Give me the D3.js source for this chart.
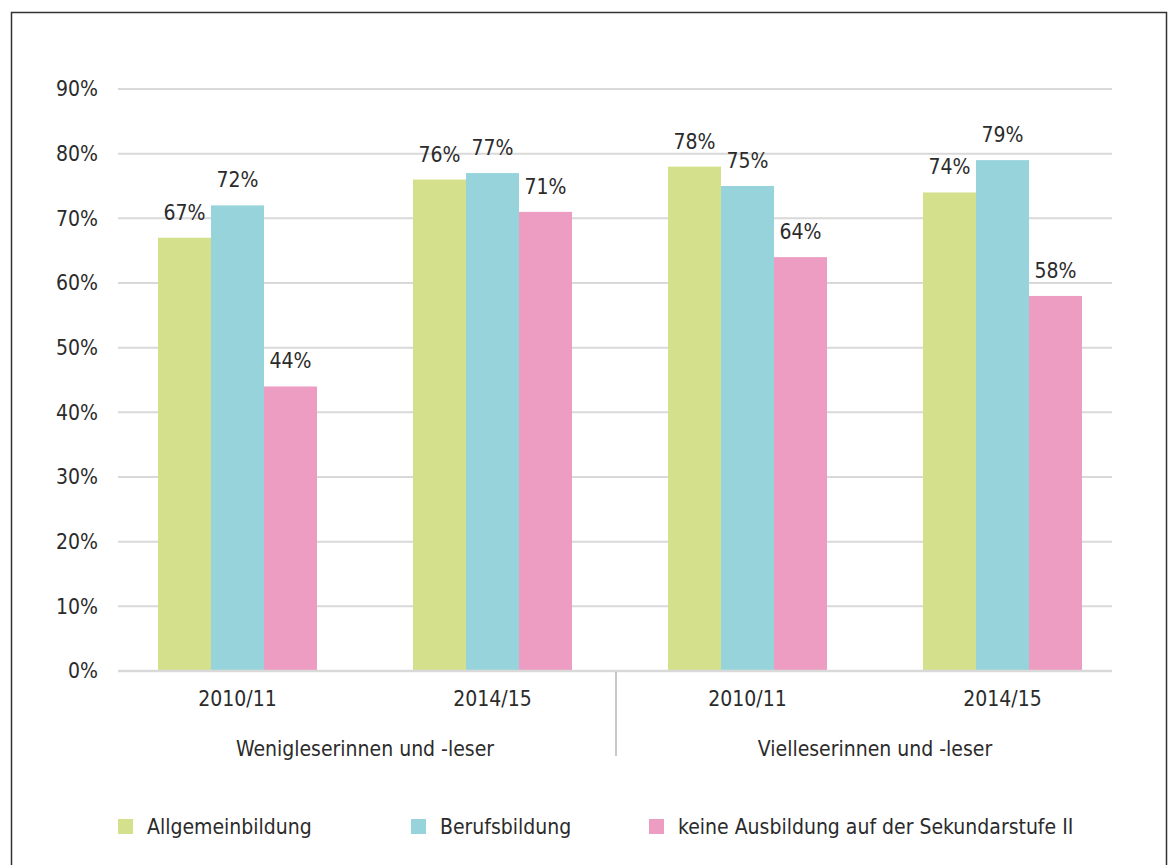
<!DOCTYPE html>
<html>
<head>
<meta charset="utf-8">
<script src="https://cdn.jsdelivr.net/npm/d3@7"></script>
<style>
  body { margin: 0; background: #fff; }
  svg text { font-family: "DejaVu Sans Condensed", "DejaVu Sans", sans-serif; fill: #2b2b2b; }
</style>
</head>
<body>
<svg id="chart" width="1173" height="865"></svg>
<script>
const groups = ['W-2010/11', 'W-2014/15', 'V-2010/11', 'V-2014/15'];
const yearLabels = ['2010/11', '2014/15', '2010/11', '2014/15'];
const readerGroups = ['Wenigleserinnen und -leser', 'Vielleserinnen und -leser'];
const seriesNames = ['Allgemeinbildung', 'Berufsbildung', 'keine Ausbildung auf der Sekundarstufe II'];
const allgemein = [67, 76, 78, 74];
const beruf = [72, 77, 75, 79];
const keine = [44, 71, 64, 58];
const yTicks = [0, 10, 20, 30, 40, 50, 60, 70, 80, 90];
const colors = ['#d4e08b', '#96d3da', '#ec9dc1'];

const svg = d3.select('#chart');
const fs = 21;

// frame
svg.append('path')
    .attr('d', 'M11.5,880 V12.5 H1166.5 V880')
    .attr('fill', 'none')
    .attr('stroke', '#333')
    .attr('stroke-width', 1.5);

const y = d3.scaleLinear().domain([0, 90]).range([671, 89]);
const x0 = d3.scaleBand().domain(groups).range([110, 1130]);
const x1 = d3.scaleBand().domain(seriesNames).range([0, 159]);
const offset = (x0.bandwidth() - 159) / 2;

// gridlines
svg.append('g').selectAll('line')
    .data(yTicks)
    .enter().append('line')
    .attr('x1', 118).attr('x2', 1112)
    .attr('y1', d => y(d)).attr('y2', d => y(d))
    .attr('stroke', '#d9d9d9')
    .attr('stroke-width', 2);

// y axis labels
const yAxis = svg.append('g')
    .attr('transform', 'translate(98,0)')
    .call(d3.axisLeft(y).tickValues(yTicks).tickSize(0).tickPadding(0).tickFormat(d => d + '%'));
yAxis.select('.domain').remove();
yAxis.selectAll('text')
    .attr('font-size', fs)
    .attr('fill', '#2b2b2b')
    .style('font-family', '"DejaVu Sans Condensed", "DejaVu Sans", sans-serif');

const series = [allgemein, beruf, keine];
const data = [];
groups.forEach((g, gi) => {
    seriesNames.forEach((s, si) => {
        data.push({ group: g, series: s, si: si, value: series[si][gi] });
    });
});

const bars = svg.append('g');
bars.selectAll('rect')
    .data(data)
    .enter().append('rect')
    .attr('x', d => x0(d.group) + offset + x1(d.series))
    .attr('y', d => y(d.value))
    .attr('width', x1.bandwidth())
    .attr('height', d => y(0) - y(d.value))
    .attr('fill', d => colors[d.si]);

bars.selectAll('text')
    .data(data)
    .enter().append('text')
    .attr('x', d => x0(d.group) + offset + x1(d.series) + x1.bandwidth() / 2)
    .attr('y', d => y(d.value) - 18)
    .attr('text-anchor', 'middle')
    .attr('font-size', fs)
    .text(d => d.value + '%');

// baseline
svg.append('line')
    .attr('x1', 118).attr('x2', 1112)
    .attr('y1', y(0)).attr('y2', y(0))
    .attr('stroke', '#d9d9d9')
    .attr('stroke-width', 2.5);

// x labels
svg.append('g').selectAll('text')
    .data(groups)
    .enter().append('text')
    .attr('x', d => x0(d) + x0.bandwidth() / 2)
    .attr('y', 706)
    .attr('text-anchor', 'middle')
    .attr('font-size', fs)
    .text((d, i) => yearLabels[i]);

svg.append('g').selectAll('text')
    .data(readerGroups)
    .enter().append('text')
    .attr('x', (d, i) => (x0(groups[i * 2]) + x0(groups[i * 2 + 1]) + x0.bandwidth()) / 2)
    .attr('y', 756)
    .attr('text-anchor', 'middle')
    .attr('font-size', fs)
    .text(d => d);

// divider between reader groups
svg.append('line')
    .attr('x1', x0(groups[2]) - 4).attr('x2', x0(groups[2]) - 4)
    .attr('y1', 672).attr('y2', 756)
    .attr('stroke', '#c8c8c8')
    .attr('stroke-width', 2);

// legend
const legendX = [118, 411, 649];
const legend = svg.append('g').selectAll('g')
    .data(seriesNames)
    .enter().append('g')
    .attr('transform', (d, i) => `translate(${legendX[i]},819)`);
legend.append('rect')
    .attr('width', 15).attr('height', 15)
    .attr('fill', (d, i) => colors[i]);
legend.append('text')
    .attr('x', 29).attr('y', 15)
    .attr('font-size', fs)
    .text(d => d);
</script>
</body>
</html>
